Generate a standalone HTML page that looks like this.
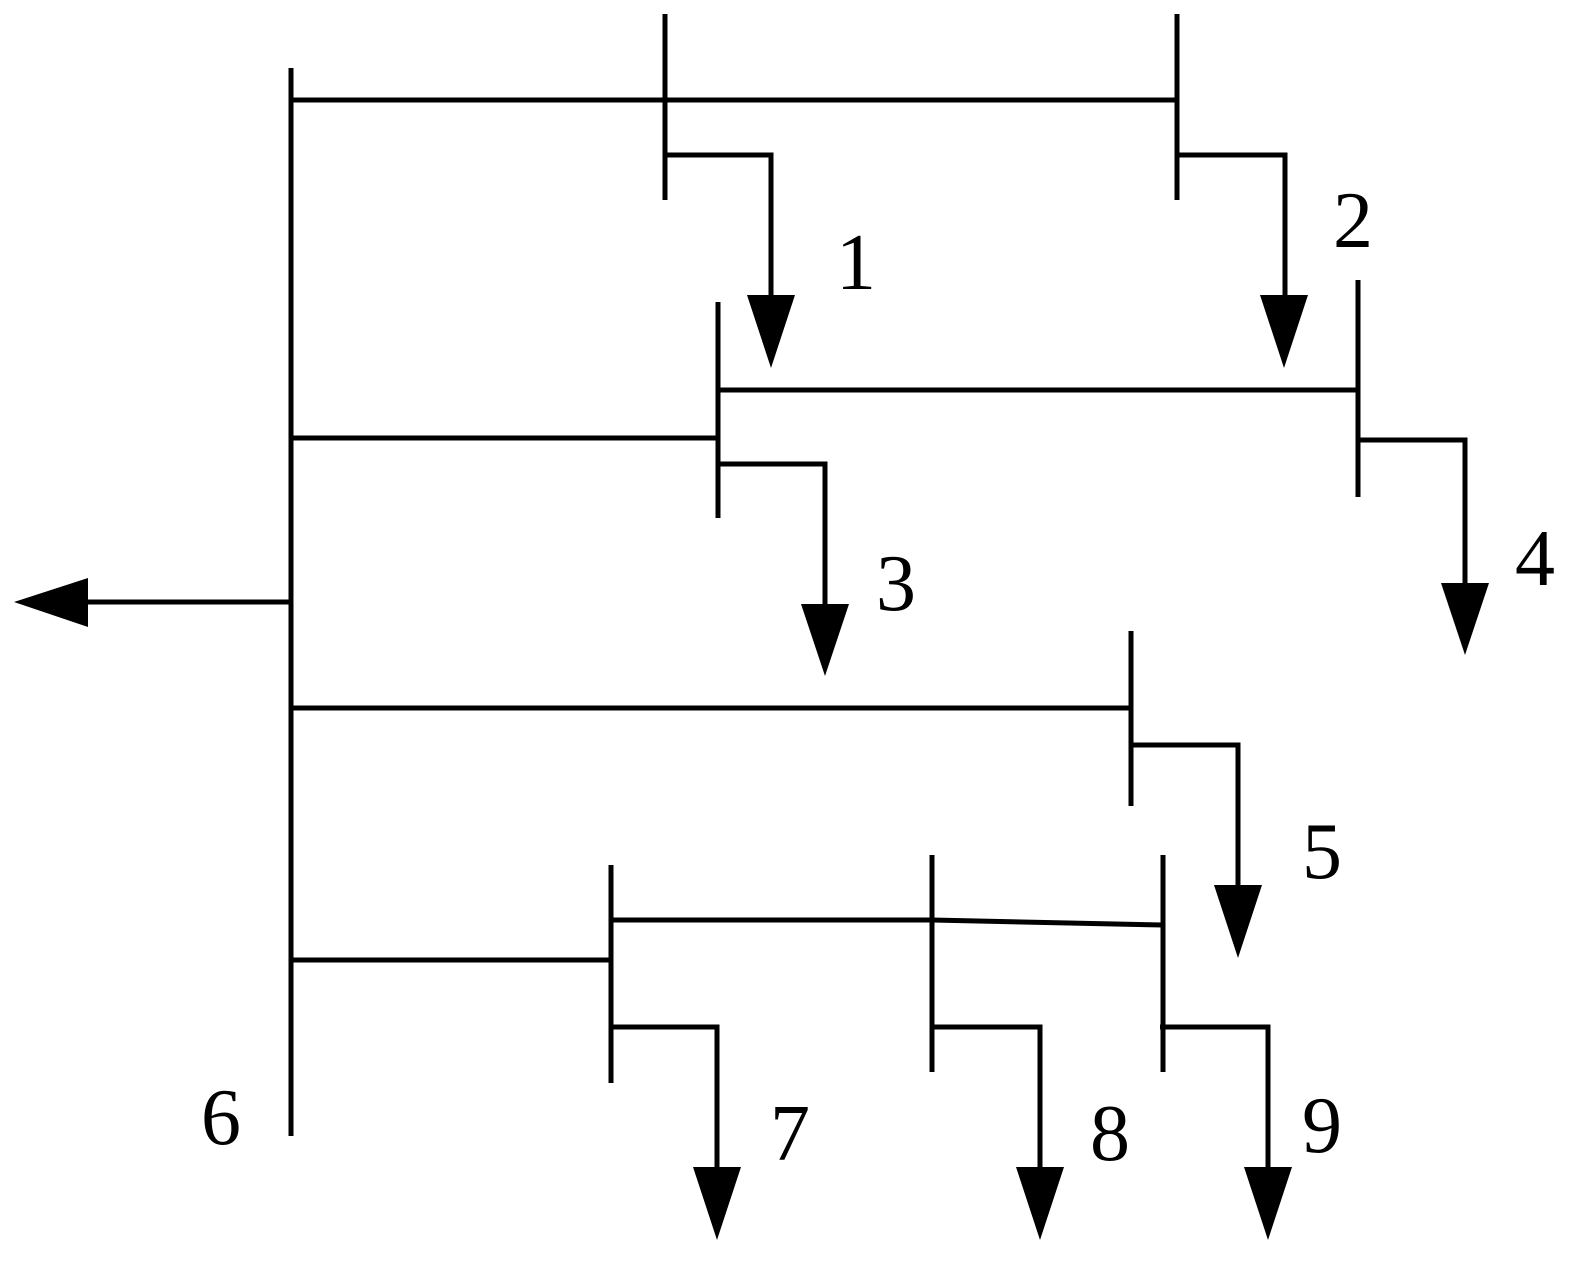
<!DOCTYPE html>
<html><head><meta charset="utf-8"><style>
html,body{margin:0;padding:0;background:#fff;}
svg{display:block}
text{font-family:"Liberation Serif",serif;font-size:80px;fill:#000}
</style></head><body>
<svg width="1582" height="1266" viewBox="0 0 1582 1266" xmlns="http://www.w3.org/2000/svg">
<g stroke="#000" stroke-width="5" fill="none" stroke-linecap="butt">
<line x1="291" y1="68" x2="291" y2="1136"/>
<line x1="665" y1="14" x2="665" y2="200"/>
<line x1="1177" y1="14" x2="1177" y2="200"/>
<line x1="291" y1="100" x2="1177" y2="100"/>
<polyline points="665,155 771,155 771,300"/>
<polyline points="1177,155 1285,155 1285,300"/>
<line x1="718" y1="302" x2="718" y2="518"/>
<line x1="1358" y1="280" x2="1358" y2="497"/>
<line x1="291" y1="438" x2="718" y2="438"/>
<line x1="718" y1="390" x2="1358" y2="390"/>
<polyline points="718,464 825,464 825,610"/>
<polyline points="1358,440 1465,440 1465,588"/>
<line x1="291" y1="602" x2="80" y2="602"/>
<line x1="1131" y1="631" x2="1131" y2="806"/>
<line x1="291" y1="708" x2="1131" y2="708"/>
<polyline points="1131,745 1238,745 1238,890"/>
<line x1="611" y1="865" x2="611" y2="1083"/>
<line x1="932" y1="855" x2="932" y2="1072"/>
<line x1="1163" y1="855" x2="1163" y2="1072"/>
<line x1="291" y1="960" x2="611" y2="960"/>
<polyline points="611,920 932,920 1163,925"/>
<polyline points="611,1027 717,1027 717,1172"/>
<polyline points="932,1027 1040,1027 1040,1172"/>
<polyline points="1160,1027 1268,1027 1268,1172"/>
</g>
<g fill="#000">
<polygon points="747,295 795,295 771,368"/>
<polygon points="1260,295 1308,295 1284,368"/>
<polygon points="801,604 849,604 825,676"/>
<polygon points="1441,583 1489,583 1465,655"/>
<polygon points="88,578 88,627 14,602"/>
<polygon points="1214,885 1262,885 1238,958"/>
<polygon points="693,1167 741,1167 717,1240"/>
<polygon points="1016,1167 1064,1167 1040,1240"/>
<polygon points="1244,1167 1292,1167 1268,1240"/>
</g>
<text x="836" y="289">1</text>
<text x="1333" y="247">2</text>
<text x="876" y="610">3</text>
<text x="1515" y="585">4</text>
<text x="1302" y="878">5</text>
<text x="201" y="1144">6</text>
<text x="770" y="1160">7</text>
<text x="1090" y="1160">8</text>
<text x="1302" y="1152">9</text>
</svg>
</body></html>
